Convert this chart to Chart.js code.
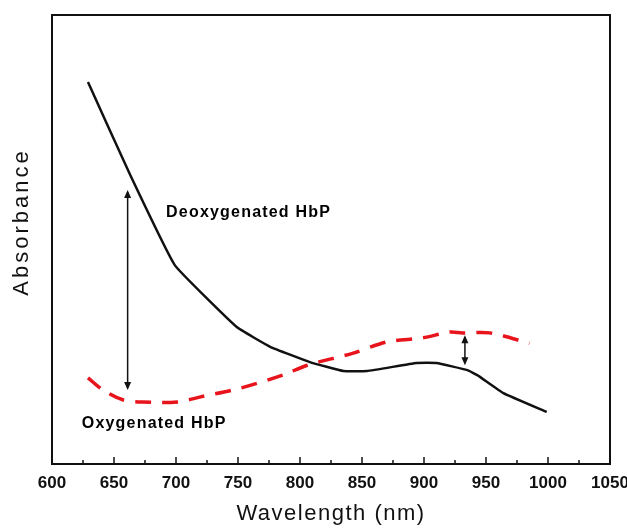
<!DOCTYPE html>
<html>
<head>
<meta charset="utf-8">
<script src="https://cdn.jsdelivr.net/npm/chart.js@4.4.1/dist/chart.umd.min.js"></script>
<style>
html,body{margin:0;padding:0;background:#fff;}
#wrap{width:627px;height:528px;position:relative;}
</style>
</head>
<body>
<div id="wrap"><canvas id="c" width="627" height="528"></canvas></div>
<script>
// Wavelength (nm) and absorbance (arbitrary units)
const deoxyWavelength = [629, 663, 699, 749, 776, 808, 835, 854, 894, 910, 935, 943, 964, 999];
const deoxyAbsorbance = [0.851, 0.644, 0.443, 0.305, 0.261, 0.227, 0.207, 0.207, 0.225, 0.225, 0.209, 0.198, 0.158, 0.116];
const oxyWavelength = [629, 641, 657, 673, 701, 719, 752, 786, 806, 843, 870, 899, 921, 931, 953, 985];
const oxyAbsorbance = [0.192, 0.165, 0.143, 0.138, 0.138, 0.149, 0.169, 0.198, 0.220, 0.247, 0.272, 0.281, 0.294, 0.292, 0.292, 0.269];
const xTicks = [600, 650, 700, 750, 800, 850, 900, 950, 1000, 1050];
const xMinorTicks = [625, 675, 725, 775, 825, 875, 925, 975, 1025];
// double-headed arrows: wavelength, top, bottom
const arrowWavelength = [661, 933];
const arrowTop = [0.610, 0.287];
const arrowBottom = [0.165, 0.220];
// text labels: text, wavelength, absorbance (left / middle)
const labelText = ["Deoxygenated HbP", "Oxygenated HbP"];
const labelWavelength = [692, 624];
const labelAbsorbance = [0.561, 0.091];
const xTitle = "Wavelength (nm)";
const yTitle = "Absorbance";

const toPts = (xs, ys) => xs.map((x, i) => ({x: x, y: ys[i]}));

const decor = {
  id: 'decor',
  afterDatasetsDraw(chart) {
    const ctx = chart.ctx;
    const xs = chart.scales.x, ys = chart.scales.y;
    ctx.save();
    ctx.strokeStyle = '#111'; ctx.fillStyle = '#111'; ctx.lineWidth = 1.5;
    arrowWavelength.forEach((w, i) => {
      const px = xs.getPixelForValue(w);
      const t = ys.getPixelForValue(arrowTop[i]);
      const b = ys.getPixelForValue(arrowBottom[i]);
      ctx.beginPath(); ctx.moveTo(px, t + 2); ctx.lineTo(px, b - 2); ctx.stroke();
      const h = 8, w2 = 3.5;
      ctx.beginPath(); ctx.moveTo(px, t); ctx.lineTo(px - w2, t + h); ctx.lineTo(px + w2, t + h); ctx.closePath(); ctx.fill();
      ctx.beginPath(); ctx.moveTo(px, b); ctx.lineTo(px - w2, b - h); ctx.lineTo(px + w2, b - h); ctx.closePath(); ctx.fill();
    });
    ctx.fillStyle = '#000';
    ctx.font = 'bold 16px "Liberation Sans", Arial, sans-serif';
    ctx.letterSpacing = '1.2px';
    ctx.textBaseline = 'middle'; ctx.textAlign = 'left';
    labelText.forEach((t, i) => {
      ctx.fillText(t, xs.getPixelForValue(labelWavelength[i]), ys.getPixelForValue(labelAbsorbance[i]));
    });
    ctx.restore();
  },
  afterDraw(chart) {
    const ctx = chart.ctx, a = chart.chartArea, xs = chart.scales.x;
    ctx.save();
    ctx.strokeStyle = '#111'; ctx.lineWidth = 2;
    ctx.strokeRect(a.left, a.top, a.right - a.left, a.bottom - a.top);
    ctx.lineWidth = 1.5;
    xTicks.forEach(v => {
      const px = xs.getPixelForValue(v);
      ctx.beginPath(); ctx.moveTo(px, a.bottom); ctx.lineTo(px, a.bottom - 7); ctx.stroke();
    });
    xMinorTicks.forEach(v => {
      const px = xs.getPixelForValue(v);
      ctx.beginPath(); ctx.moveTo(px, a.bottom); ctx.lineTo(px, a.bottom - 4); ctx.stroke();
    });
    ctx.fillStyle = '#111';
    ctx.font = '22px "Liberation Sans", Arial, sans-serif';
    ctx.letterSpacing = '1.5px';
    ctx.textAlign = 'center'; ctx.textBaseline = 'middle';
    ctx.fillText(xTitle, (a.left + a.right) / 2, 514);
    ctx.translate(22, 222);
    ctx.rotate(-Math.PI / 2);
    ctx.letterSpacing = '3px';
    ctx.fillText(yTitle, 0, 0);
    ctx.restore();
  }
};

new Chart(document.getElementById('c'), {
  type: 'line',
  data: {
    datasets: [
      {
        label: 'Deoxygenated HbP',
        data: toPts(deoxyWavelength, deoxyAbsorbance),
        borderColor: '#111', borderWidth: 2.5, pointRadius: 0, tension: 0.1, fill: false
      },
      {
        label: 'Oxygenated HbP',
        data: toPts(oxyWavelength, oxyAbsorbance),
        borderColor: '#e8141b', borderWidth: 3.5, borderDash: [16, 11], pointRadius: 0, tension: 0.3, fill: false
      }
    ]
  },
  options: {
    responsive: false,
    animation: false,
    layout: {padding: {left: 52, right: 17, top: 15, bottom: 0}},
    plugins: {legend: {display: false}, tooltip: {enabled: false}},
    scales: {
      x: {
        type: 'linear', min: 600, max: 1050,
        grid: {display: false, drawTicks: false},
        border: {display: false},
        afterBuildTicks: s => { s.ticks = xTicks.map(v => ({value: v})); },
        ticks: {
          padding: 9, maxRotation: 0, autoSkip: false, color: '#111',
          font: {family: '"Liberation Sans", Arial, sans-serif', size: 17, weight: 'bold'},
          callback: v => String(v)
        },
        afterFit: s => { s.height = 64; s.paddingLeft = 0; s.paddingRight = 0; }
      },
      y: {
        type: 'linear', min: 0, max: 1, display: false
      }
    }
  },
  plugins: [decor]
});
</script>
</body>
</html>
